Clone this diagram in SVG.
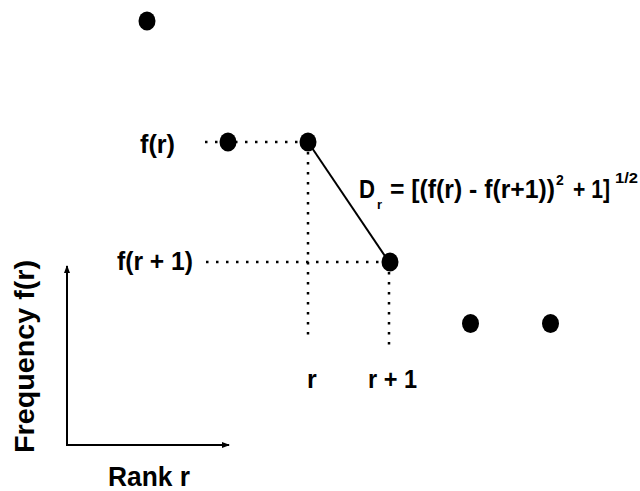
<svg xmlns="http://www.w3.org/2000/svg" width="640" height="491" viewBox="0 0 640 491">
<style>
.lbl{font-family:"Liberation Sans",Arial,sans-serif;font-weight:bold;fill:#000}
.dot{fill:#000}
.dotted{stroke:#000;stroke-width:2.5;stroke-dasharray:2.5 7.5;fill:none}
.solid{stroke:#000;stroke-width:2;fill:none}
</style>
<defs>
<marker id="ah" markerWidth="8" markerHeight="6" refX="7" refY="3" orient="auto" markerUnits="userSpaceOnUse">
<path d="M0,0 L8,3 L0,6 Z" fill="#000"/>
</marker>
</defs>
<g id="connectors">
<line class="dotted" x1="205" y1="142" x2="300" y2="142"/>
<line class="dotted" x1="308" y1="152" x2="308" y2="342"/>
<line class="dotted" x1="206" y1="262" x2="380" y2="262"/>
<line class="dotted" x1="389" y1="272" x2="389" y2="345"/>
<line class="solid" x1="308" y1="142" x2="389" y2="262"/>
<line class="solid" x1="67" y1="445" x2="67" y2="266" marker-end="url(#ah)"/>
<line class="solid" x1="66" y1="445" x2="229" y2="445" marker-end="url(#ah)"/>
</g>
<g id="p1"><ellipse class="dot" cx="147" cy="21" rx="8.5" ry="9.5"/></g>
<g id="p2"><ellipse class="dot" cx="228" cy="142" rx="8.5" ry="9.5"/></g>
<g id="p3"><ellipse class="dot" cx="308" cy="142" rx="8.5" ry="9.5"/></g>
<g id="p4"><ellipse class="dot" cx="390" cy="262" rx="8.5" ry="9.5"/></g>
<g id="p5"><ellipse class="dot" cx="470.5" cy="323.5" rx="8.5" ry="9.5"/></g>
<g id="p6"><ellipse class="dot" cx="550.5" cy="323.5" rx="8.5" ry="9.5"/></g>
<g id="labels">
<text class="lbl" x="140" y="153" font-size="26" textLength="35" lengthAdjust="spacingAndGlyphs">f(r)</text>
<text class="lbl" x="117" y="270" font-size="26" textLength="76" lengthAdjust="spacingAndGlyphs">f(r + 1)</text>
<text class="lbl" x="307" y="388" font-size="25">r</text>
<text class="lbl" x="368" y="388" font-size="25" textLength="49" lengthAdjust="spacingAndGlyphs">r + 1</text>
<text class="lbl" x="108" y="486" font-size="27" textLength="82" lengthAdjust="spacingAndGlyphs">Rank r</text>
<text class="lbl" transform="translate(34,453) rotate(-90)" x="0" y="0" font-size="28" textLength="193" lengthAdjust="spacingAndGlyphs">Frequency f(r)</text>
<text class="lbl" x="359" y="198" font-size="25" textLength="16" lengthAdjust="spacingAndGlyphs">D</text>
<text class="lbl" x="377" y="209" font-size="13">r</text>
<text class="lbl" x="390" y="198" font-size="26" textLength="165" lengthAdjust="spacingAndGlyphs">= [(f(r) - f(r+1))</text>
<text class="lbl" x="556" y="185" font-size="14">2</text>
<text class="lbl" x="573" y="198" font-size="26" textLength="37" lengthAdjust="spacingAndGlyphs">+ 1]</text>
<text class="lbl" x="615" y="183" font-size="14" textLength="23" lengthAdjust="spacingAndGlyphs">1/2</text>
</g>
</svg>
